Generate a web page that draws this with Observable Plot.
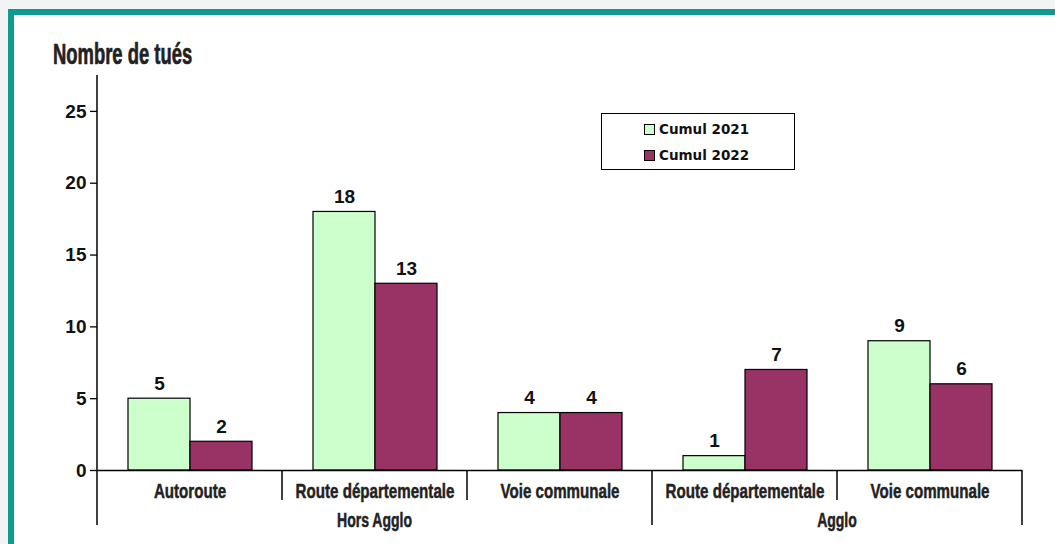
<!DOCTYPE html>
<html><head><meta charset="utf-8">
<script src="https://cdn.jsdelivr.net/npm/d3@7"></script>
<script src="https://cdn.jsdelivr.net/npm/@observablehq/plot@0.6"></script>
<style>
html,body{margin:0;padding:0;width:1055px;height:544px;overflow:hidden;background:#f1f4f2;}
#frame{position:absolute;left:8px;top:9px;width:1090px;height:600px;border:6px solid #0e9a90;background:#fff;box-sizing:border-box}
#chart{position:absolute;left:0;top:0}
#title{position:absolute;left:53px;top:40px;font-family:"Liberation Sans";font-weight:bold;font-size:29px;line-height:1;color:#222;-webkit-text-stroke:0.7px #222;transform:scaleX(.635);transform-origin:left top;white-space:nowrap}
#legend{position:absolute;left:601px;top:113px;width:194px;height:57px;box-sizing:border-box;border:1px solid #000;background:#fff;font-family:"DejaVu Sans";font-weight:bold;font-size:13.5px;color:#111}
.row{position:absolute;left:42px;height:16px;display:flex;align-items:center;white-space:nowrap}
.sw{width:9px;height:9px;border:1px solid #000;margin-right:4px}
</style></head>
<body>
<div id="frame"></div>
<div id="chart"></div>
<div id="title">Nombre de tués</div>
<div id="legend"></div>
<script>
const groups = ["Hors Agglo", "Hors Agglo", "Hors Agglo", "Agglo", "Agglo"];
const categories = ["Autoroute", "Route départementale", "Voie communale", "Route départementale", "Voie communale"];
const series = ["Cumul 2021", "Cumul 2022"];
const values2021 = [5, 18, 4, 1, 9];
const values2022 = [2, 13, 4, 7, 6];
const yTicks = [0, 5, 10, 15, 20, 25];
const colors = ["#ccffcc", "#993366"];

const keys = categories.map((c, i) => groups[i] + "|" + c);
const catOf = new Map(keys.map((k, i) => [k, categories[i]]));
const rows = [];
keys.forEach((k, i) => {
  rows.push({key: k, series: series[0], value: values2021[i]});
  rows.push({key: k, series: series[1], value: values2022[i]});
});

const chart = Plot.plot({
  width: 1055, height: 544,
  marginLeft: 97, marginRight: 33, marginTop: 75, marginBottom: 74,
  style: {background: "transparent", fontFamily: "Liberation Sans", fontSize: "18px", fontWeight: "bold", color: "#111", overflow: "visible"},
  fx: {domain: keys, padding: 0},
  x: {domain: series, paddingInner: 0, paddingOuter: 0.49, axis: null},
  y: {domain: [0, 27.5]},
  color: {domain: series, range: colors},
  marks: [
    Plot.barY(rows, {fx: "key", x: "series", y: "value", fill: "series", stroke: "#000", strokeWidth: 1.2}),
    Plot.text(rows, {fx: "key", x: "series", y: "value", text: d => String(d.value), dy: -9, lineAnchor: "bottom", fontSize: 19, fontWeight: "bold", fill: "#111"}),
    Plot.ruleY([0], {stroke: "#000", strokeWidth: 1.6}),
    Plot.axisY(yTicks, {tickSize: 7, tickPadding: 4, fontSize: 19, fontWeight: "bold", label: null, stroke: "#000", strokeWidth: 1.3}),
    Plot.axisFx({anchor: "bottom", tickSize: 0, tickPadding: 13, tickFormat: k => catOf.get(k), fontFamily: "Liberation Sans", fontSize: 21, fontWeight: "bold", label: null, fill: "#222"})
  ]
});
document.getElementById("chart").append(chart);

// category separators, y axis line and group labels, positioned with Plot's scales
const svg = d3.select(chart);
const fxS = chart.scale("fx"), yS = chart.scale("y");
const bw = fxS.bandwidth;
const y0 = yS.apply(0);
const g = svg.append("g").attr("stroke", "#000").attr("stroke-width", 1.5);
const xStart = k => fxS.apply(k);
for (let i = 0; i <= keys.length; i++) {
  const x = i < keys.length ? xStart(keys[i]) : xStart(keys[keys.length - 1]) + bw;
  const long = i === 0 || i === keys.length || groups[i] !== groups[i - 1];
  const top = i === 0 ? yS.apply(27.5) : y0;
  g.append("line").attr("x1", x).attr("x2", x).attr("y1", top).attr("y2", y0 + (long ? 55 : 30));
}
const groupNames = [...new Set(groups)];
const gl = svg.append("g").attr("font-family", "Liberation Sans").attr("font-size", 20).attr("font-weight", "bold").attr("fill", "#222").attr("text-anchor", "middle");
groupNames.forEach(name => {
  const ks = keys.filter((k, i) => groups[i] === name);
  const x = (xStart(ks[0]) + xStart(ks[ks.length - 1]) + bw) / 2;
  gl.append("text").attr("class", "cond").attr("x", x).attr("y", y0 + 57).text(name);
});
function condense(sel, f) {
  sel.each(function () {
    const w = this.getComputedTextLength();
    this.setAttribute("textLength", w * f);
    this.setAttribute("lengthAdjust", "spacingAndGlyphs");
    this.setAttribute("stroke", "#222");
    this.setAttribute("stroke-width", 0.5);
  });
}
condense(svg.selectAll('g[aria-label="fx-axis tick label"] text'), 0.72);
condense(svg.selectAll("text.cond"), 0.70);

// legend
const leg = document.getElementById("legend");
series.forEach((s, i) => {
  const r = document.createElement("div");
  r.className = "row";
  r.style.top = (7 + i * 26) + "px";
  r.innerHTML = `<span class="sw" style="background:${colors[i]}"></span><span>${s}</span>`;
  leg.append(r);
});
</script>
</body></html>
